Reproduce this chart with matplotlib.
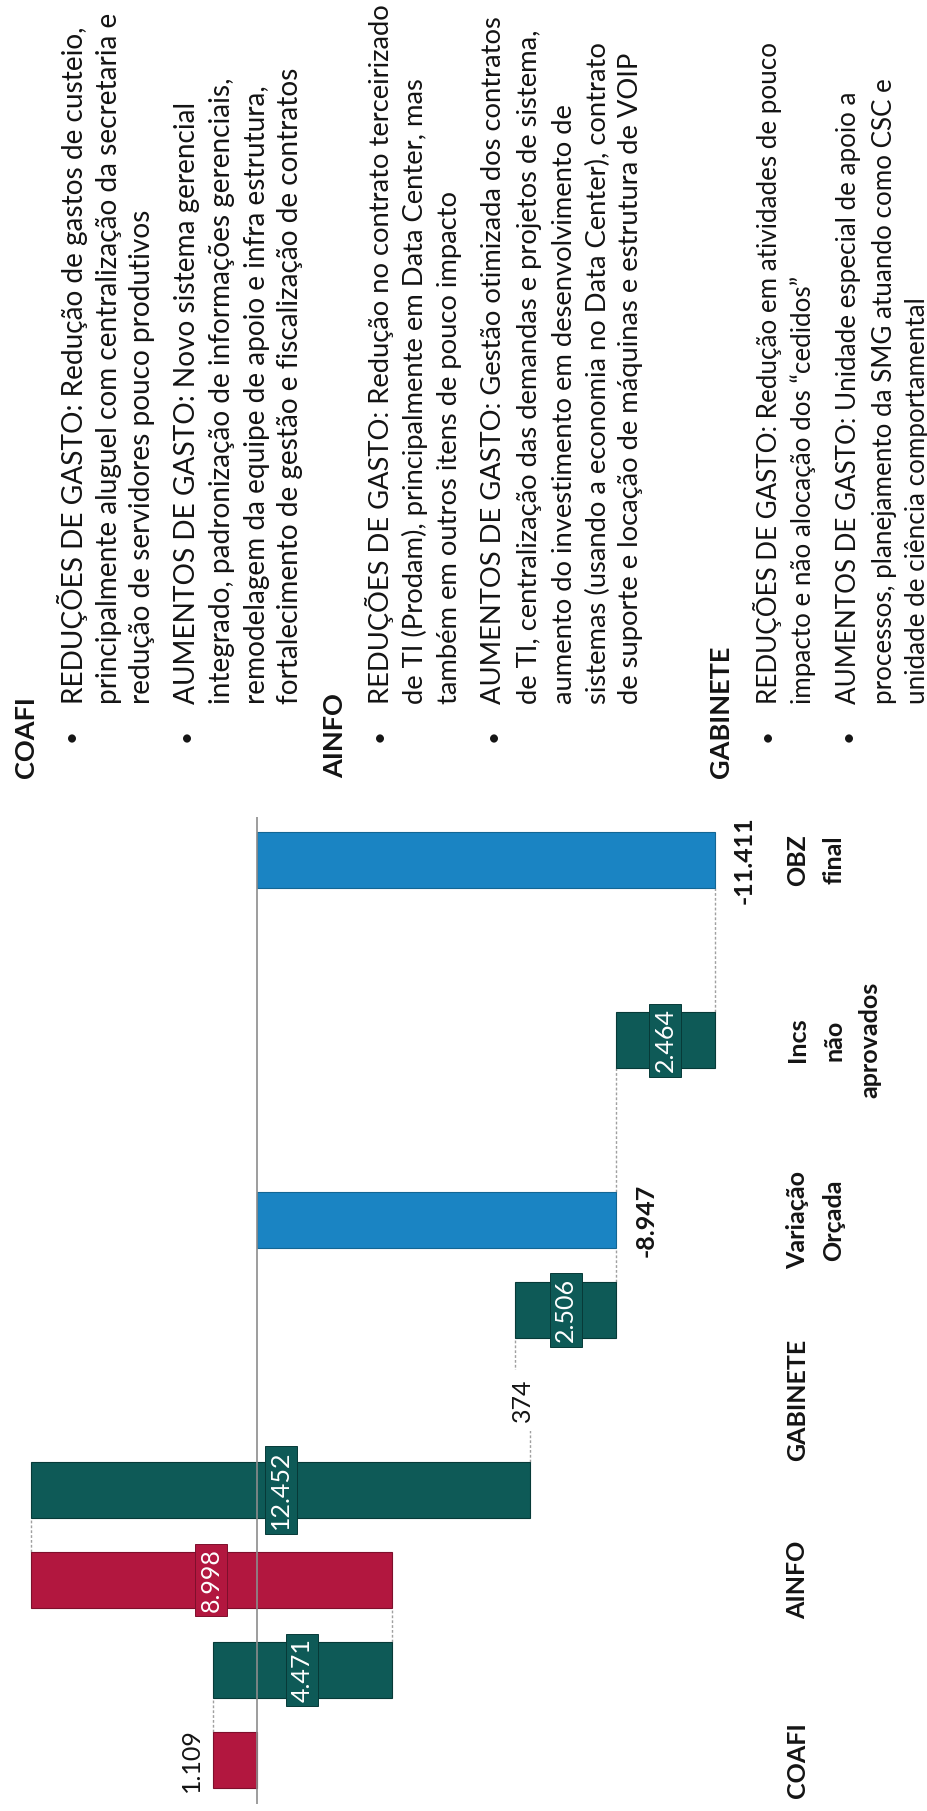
import matplotlib
matplotlib.use("Agg")
import matplotlib.pyplot as plt
from matplotlib import transforms

# ---------------- data (R$ mil) ----------------
categories = ["COAFI", "AINFO", "GABINETE", "Variação\nOrçada", "Incs\nnão\naprovados", "OBZ\nfinal"]
increases = [1109, 8998, 374]          # aumentos de gasto por unidade
reductions = [4471, 12452, 2506]       # reduções de gasto por unidade
variacao_orcada = -8947
incs_nao_aprovados = 2464
obz_final = -11411

# ---------------- style ----------------
GREEN = "#0e5a57"
RED = "#b2173f"
BLUE = "#1a84c3"
EDGE = {GREEN: "#073a38", RED: "#7e0f2c", BLUE: "#136694"}
CONN = "#a0a0a0"
TXT = "#141414"
FONT = "Lato"

W, H = 928, 1811
fig = plt.figure(figsize=(W / 100, H / 100), dpi=100)
fig.patch.set_facecolor("white")


def fy(py):
    return 1 - py / H


# ---------------- waterfall (drawn sideways) ----------------
chart_top = 790
ax = fig.add_axes([0, 0, 1, (H - chart_top) / H])
px_per_unit = 0.0401
zero_px = 257
ax.set_xlim(zero_px / px_per_unit, -(W - zero_px) / px_per_unit)
slot_px, first_px = 90, 1760
ax.set_ylim((first_px - H) / slot_px, (first_px - chart_top) / slot_px)
ax.axis("off")

# build the sequence of steps
steps = []  # (slot, start, end, color, kind)
total = 0
slot = 0
for up, down in zip(increases, reductions):
    steps.append((slot, total, total + up, RED, "up"))
    total += up
    slot += 1
    steps.append((slot, total, total - down, GREEN, "down"))
    total -= down
    slot += 1
steps.append((slot, 0, variacao_orcada, BLUE, "total"))
total = variacao_orcada
slot += 2
steps.append((slot, total, total - incs_nao_aprovados, GREEN, "down"))
total -= incs_nao_aprovados
slot += 2
steps.append((slot, 0, obz_final, BLUE, "total"))

bar_h = 0.62
for s, a, b, c, kind in steps:
    ax.barh(s, b - a, left=a, height=bar_h, color=c, edgecolor=EDGE[c], linewidth=0.8, zorder=3)

# dotted connectors between consecutive bars
for (s0, a0, b0, _, _), (s1, a1, b1, _, _) in zip(steps[:-1], steps[1:]):
    ax.plot([b0, b0], [s0 + bar_h / 2, s1 - bar_h / 2], color=CONN, lw=1.0,
            ls=(0, (2, 1.5)), zorder=2)

# zero axis
ax.vlines(0, (first_px - 1804) / slot_px, (first_px - 817) / slot_px, color="#8c8c8c", lw=1.2, zorder=4)


def fmt(v):
    return f"{v:,}".replace(",", ".")


def offset(dx):
    return transforms.offset_copy(ax.transData, fig=fig, x=dx, y=0, units="dots")


for i, (s, a, b, c, kind) in enumerate(steps):
    val = abs(b - a) if kind != "total" else b
    label = fmt(val)
    mid = (a + b) / 2
    if kind == "total":
        ax.text(b, s, label, transform=offset(30), rotation=90, rotation_mode="anchor",
                ha="center", va="center", fontsize=18, fontweight="bold", color=TXT,
                family=FONT, zorder=6)
    elif abs(b - a) * px_per_unit < 20:
        ax.text(mid, s, label, rotation=90, rotation_mode="anchor", ha="center", va="center",
                fontsize=18, color=TXT, family=FONT, zorder=6,
                bbox=dict(boxstyle="square,pad=0.35", fc="white", ec="none"))
    elif abs(b - a) * px_per_unit < 60:
        ax.text(b, s, label, transform=offset(-21), rotation=90, rotation_mode="anchor",
                ha="center", va="center", fontsize=18, color=TXT, family=FONT, zorder=6)
    else:
        ax.text(mid, s, label, rotation=90, rotation_mode="anchor", ha="center", va="center",
                fontsize=18, color="white", family=FONT, zorder=6,
                bbox=dict(boxstyle="square,pad=0.18", fc=c, ec=EDGE[c], lw=0.7))

# category labels
cat_tr = transforms.blended_transform_factory(fig.transFigure, ax.transData)
for k, name in enumerate(categories):
    for j, line in enumerate(name.split("\n")):
        ax.text((798 + 36 * j) / W, 2 * k, line, transform=cat_tr, rotation=90,
                rotation_mode="anchor", ha="center", va="center", fontsize=18,
                fontweight="bold", color=TXT, family=FONT)

# ---------------- explanatory notes ----------------
# (kind, x centre in px, text, font size)
notes = [
    ("head", 26, "COAFI", 19.5),
    ("bullet", 72, "REDUÇÕES DE GASTO: Redução de gastos de custeio,", 20.2),
    ("line", 109, "principalmente aluguel com centralização da secretaria e", 20.2),
    ("line", 142, "redução de servidores pouco produtivos", 20.2),
    ("bullet", 187, "AUMENTOS DE GASTO: Novo sistema gerencial", 20.2),
    ("line", 222, "integrado, padronização de informações gerenciais,", 20.2),
    ("line", 257, "remodelagem da equipe de apoio e infra estrutura,", 20.2),
    ("line", 290, "fortalecimento de gestão e fiscalização de contratos", 20.2),
    ("head", 335, "AINFO", 19.5),
    ("bullet", 380, "REDUÇÕES DE GASTO: Redução no contrato terceirizado", 19.7),
    ("line", 415, "de TI (Prodam), principalmente em Data Center, mas", 19.7),
    ("line", 450, "também em outros itens de pouco impacto", 19.7),
    ("bullet", 494, "AUMENTOS DE GASTO: Gestão otimizada dos contratos", 19.7),
    ("line", 529, "de TI, centralização das demandas e projetos de sistema,", 19.7),
    ("line", 565, "aumento do investimento em desenvolvimento de", 19.7),
    ("line", 598, "sistemas (usando a economia no Data Center), contrato", 19.7),
    ("line", 631, "de suporte e locação de máquinas e estrutura de VOIP", 19.7),
    ("head", 721, "GABINETE", 19.5),
    ("bullet", 768, "REDUÇÕES DE GASTO: Redução em atividades de pouco", 18.7),
    ("line", 803, "impacto e não alocação dos “cedidos”", 18.7),
    ("bullet", 849, "AUMENTOS DE GASTO: Unidade especial de apoio a", 18.7),
    ("line", 885, "processos, planejamento da SMG atuando como CSC e", 18.7),
    ("line", 918, "unidade de ciência comportamental", 18.7),
]
for kind, xc, text, fs in notes:
    if kind == "head":
        fig.text(xc / W, fy(778), text, rotation=90, rotation_mode="anchor", ha="left",
                 va="center", fontsize=fs, fontweight="bold", color=TXT, family=FONT)
        continue
    if kind == "bullet":
        fig.text(xc / W, fy(736), "•", rotation=90, rotation_mode="anchor", ha="center",
                 va="center", fontsize=16, color=TXT, family=FONT)
    fig.text(xc / W, fy(704), text, rotation=90, rotation_mode="anchor", ha="left",
             va="center", fontsize=fs, color=TXT, family=FONT)

fig.savefig("out.png", dpi=100, facecolor="white")
